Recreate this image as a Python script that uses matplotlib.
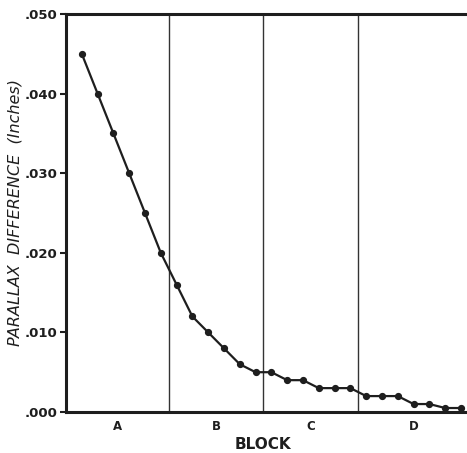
import numpy as np
import matplotlib.pyplot as plt

# parallax difference read per photo, in order across the blocks
parallax = [0.045, 0.040, 0.035, 0.030, 0.025, 0.020, 0.016, 0.012, 0.010,
            0.008, 0.006, 0.005, 0.005, 0.004, 0.004, 0.003, 0.003, 0.003,
            0.002, 0.002, 0.002, 0.001, 0.001, 0.0005, 0.0005]
photo = np.arange(1, len(parallax) + 1)

blocks = ["A", "B", "C", "D"]
block_edges = [0.0, 6.5, 12.5, 18.5, 25.5]

yticks = [0.0, 0.010, 0.020, 0.030, 0.040, 0.050]
ytick_labels = [".000", ".010", ".020", ".030", ".040", ".050"]

ink = "#1e1e1e"

fig = plt.figure(figsize=(4.67, 4.53), dpi=100)
ax = fig.add_axes([0.1413, 0.0905, 0.8587, 0.8786])

ax.plot(photo, parallax, color=ink, lw=1.6, marker="o", ms=4.2,
        mfc=ink, mec=ink, zorder=3)

for e in block_edges[1:-1]:
    ax.axvline(e, color="#333333", lw=1.0, zorder=2)

ax.set_xlim(0, 25.38)
ax.set_ylim(0, 0.050)

ax.set_yticks(yticks)
ax.set_yticklabels(ytick_labels, fontsize=9.5, fontweight="bold", color=ink)
ax.tick_params(axis="y", direction="out", length=4, width=1.5, color=ink, pad=2)

centers = [(a + b) / 2 for a, b in zip(block_edges[:-1], block_edges[1:])]
ax.set_xticks(centers)
ax.set_xticklabels(blocks, fontsize=8.5, fontweight="bold", color=ink)
ax.tick_params(axis="x", length=0, pad=6)

for s in ["left", "bottom", "top"]:
    ax.spines[s].set_linewidth(2.2)
    ax.spines[s].set_color(ink)
ax.spines["right"].set_visible(False)

fig.text(0.563, 0.008, "BLOCK", ha="center", va="baseline",
         fontsize=11, fontweight="bold", color=ink)
fig.text(0.033, 0.53, "PARALLAX  DIFFERENCE  (Inches)", rotation=90,
         ha="center", va="center", fontsize=11.5, fontstyle="italic",
         color=ink)

fig.savefig("out.png", dpi=100)
